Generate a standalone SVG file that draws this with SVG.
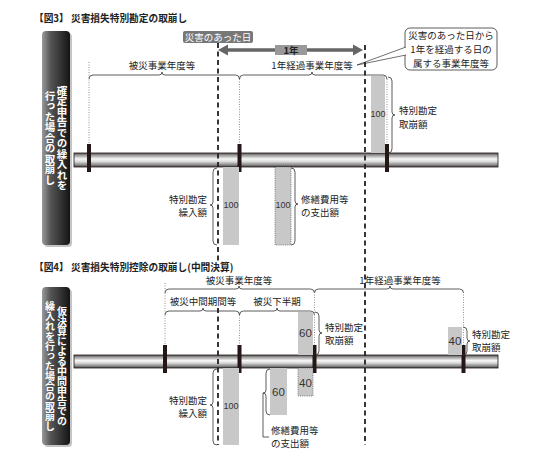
<svg xmlns="http://www.w3.org/2000/svg" width="550" height="459" viewBox="0 0 550 459">
<defs>
<linearGradient id="pipe" x1="0" y1="0" x2="0" y2="1">
<stop offset="0" stop-color="#555"/><stop offset="0.18" stop-color="#a0a0a0"/><stop offset="0.42" stop-color="#f6f6f6"/><stop offset="0.6" stop-color="#dedede"/><stop offset="0.85" stop-color="#888"/><stop offset="1" stop-color="#444"/>
</linearGradient>
<linearGradient id="side" x1="0" y1="0" x2="1" y2="0">
<stop offset="0" stop-color="#9a9a9a"/><stop offset="0.3" stop-color="#565656"/><stop offset="1" stop-color="#141414"/>
</linearGradient>
</defs>
<style>
.t{font-family:"Noto Sans CJK JP","Noto Sans",sans-serif;font-size:9.5px;fill:#222}
.ttl{font-family:"Noto Sans CJK JP","Noto Sans",sans-serif;font-size:9.7px;font-weight:bold;fill:#222}
.v{font-family:"Noto Sans CJK JP",sans-serif;font-weight:bold;fill:#fff;writing-mode:vertical-rl;text-anchor:middle}
.n{font-family:"Liberation Sans",Arial,sans-serif;font-size:9px;fill:#333;text-anchor:middle}
.nb{font-family:"Liberation Sans",Arial,sans-serif;font-size:11.5px;fill:#333;text-anchor:middle}
.br{fill:none;stroke:#333;stroke-width:0.8}
.dot{stroke:#777;stroke-width:0.8;stroke-dasharray:1 1.5;fill:none}
.dash{stroke:#222;stroke-width:1.8;stroke-dasharray:5 3.5;fill:none}
.pipe{fill:url(#pipe);stroke:#231815;stroke-width:0.8}
.tick{fill:#231815}
.g{fill:#c8c8c8}
.gd{fill:#c8c8c8;stroke:#555;stroke-width:0.7;stroke-dasharray:1 1.2}
.side{fill:url(#side)}
.sh{fill:#c4c4c4}
</style>

<!-- Figure 3 -->
<g id="fig3-title"><text class="ttl" x="34" y="22">【図3】 災害損失特別勘定の取崩し</text></g>
<g id="fig3-side">
<rect class="sh" x="44" y="33" width="28" height="214" rx="4"/>
<rect class="side" x="42" y="31" width="28" height="214" rx="4"/>
<text class="v" x="62" y="138" font-size="10.5">確定申告での繰入れを</text>
<text class="v" x="50" y="138" font-size="10.5">行った場合の取崩し</text>
</g>
<g id="fig3-pipe">
<rect class="pipe" x="74" y="153" width="424" height="14"/>
<rect class="tick" x="87" y="144" width="4" height="28"/>
<rect class="tick" x="237.5" y="144" width="4" height="28"/>
<rect class="tick" x="385" y="144" width="4" height="28"/>
</g>
<g id="fig3-disaster-day">
<rect x="183" y="31" width="70" height="12" rx="2" fill="#777"/>
<text x="218" y="40.5" class="t" style="fill:#fff" text-anchor="middle">災害のあった日</text>
</g>
<g id="fig3-one-year">
<line x1="226" y1="50" x2="355" y2="50" stroke="#666" stroke-width="3.5"/>
<polygon points="218,50 228,44.5 228,55.5" fill="#666"/>
<polygon points="363,50 353,44.5 353,55.5" fill="#666"/>
<rect x="275" y="45" width="32" height="10" fill="#999"/>
<text x="291" y="53.5" class="ttl" text-anchor="middle" style="font-size:9.5px">1年</text>
</g>
<g id="fig3-period1">
<path class="br" d="M89,79 Q89,75 93,75 H159 Q162,75 162,72 Q162,75 165,75 H235.5 Q239.5,75 239.5,79"/>
<text class="t" x="162" y="69" text-anchor="middle">被災事業年度等</text>
</g>
<g id="fig3-period2">
<path class="br" d="M239.5,79 Q239.5,75 243.5,75 H309 Q312,75 312,72 Q312,75 315,75 H383 Q387,75 387,79"/>
<text class="t" x="312" y="69" text-anchor="middle">1年経過事業年度等</text>
</g>
<g id="fig3-callout">
<rect x="405" y="28" width="92" height="42" rx="5" fill="#fff" stroke="#333" stroke-width="0.8"/>
<polygon points="357,65 406,47 406,55" fill="#fff"/>
<path d="M406,47 L357,65 L406,55" fill="none" stroke="#333" stroke-width="0.7"/>
<text class="t" x="451" y="39" text-anchor="middle">災害のあった日から</text>
<text class="t" x="451" y="53" text-anchor="middle">1年を経過する日の</text>
<text class="t" x="451" y="67" text-anchor="middle">属する事業年度等</text>
</g>
<g id="fig3-reversal">
<rect class="g" x="371" y="76" width="14" height="77"/>
<text class="n" x="378" y="117">100</text>
<path class="br" d="M388,77 Q392,77 392,81 V112 Q392,115 395,115 Q392,115 392,118 V149 Q392,153 388,153"/>
<text class="t" x="399" y="114">特別勘定</text>
<text class="t" x="399" y="128">取崩額</text>
</g>
<g id="fig3-provision">
<path class="br" d="M217,168 Q213,168 213,172 V202 Q213,205 210,205 Q213,205 213,208 V241 Q213,245 217,245"/>
<text class="t" x="207" y="203" text-anchor="end">特別勘定</text>
<text class="t" x="207" y="216" text-anchor="end">繰入額</text>
<rect class="g" x="223" y="167" width="16" height="78"/>
<text class="n" x="231" y="208">100</text>
</g>
<g id="fig3-repair">
<rect class="gd" x="275" y="167" width="16" height="78"/>
<text class="n" x="283" y="208">100</text>
<path class="br" d="M291,168 Q295,168 295,172 V201 Q295,204 298,204 Q295,204 295,207 V241 Q295,245 291,245"/>
<text class="t" x="301" y="203">修繕費用等</text>
<text class="t" x="301" y="216">の支出額</text>
</g>

<!-- Figure 4 -->
<g id="fig4-title"><text class="ttl" x="34" y="271">【図4】 災害損失特別控除の取崩し(中間決算)</text></g>
<g id="fig4-side">
<rect class="sh" x="44" y="289" width="28" height="158" rx="4"/>
<rect class="side" x="42" y="287" width="28" height="158" rx="4"/>
<text class="v" x="62" y="366" font-size="10">仮決算による中間申告での</text>
<text class="v" x="50" y="366" font-size="10">繰入れを行った場合の取崩し</text>
</g>
<g id="fig4-pipe">
<rect class="pipe" x="74" y="355" width="424" height="13"/>
<rect class="tick" x="163" y="345" width="4" height="28"/>
<rect class="tick" x="237.5" y="345" width="4" height="28"/>
<rect class="tick" x="312.5" y="345" width="4" height="28"/>
<rect class="tick" x="461.5" y="345" width="4" height="28"/>
</g>
<g id="fig4-period-year">
<path class="br" d="M165,293 Q165,289 169,289 H236 Q239,289 239,286 Q239,289 242,289 H310.5 Q314.5,289 314.5,293"/>
<text class="t" x="239" y="284" text-anchor="middle">被災事業年度等</text>
</g>
<g id="fig4-period-next">
<path class="br" d="M314.5,293 Q314.5,289 318.5,289 H387 Q390,289 390,286 Q390,289 393,289 H459.5 Q463.5,289 463.5,293"/>
<text class="t" x="400" y="284" text-anchor="middle">1年経過事業年度等</text>
</g>
<g id="fig4-period-interim">
<path class="br" d="M165,315 Q165,311 169,311 H200 Q203,311 203,308 Q203,311 206,311 H235.5 Q239.5,311 239.5,315"/>
<text class="t" x="203" y="305" text-anchor="middle">被災中間期間等</text>
</g>
<g id="fig4-period-second">
<path class="br" d="M239.5,315 Q239.5,311 243.5,311 H274 Q277,311 277,308 Q277,311 280,311 H310.5 Q314.5,311 314.5,315"/>
<text class="t" x="277" y="305" text-anchor="middle">被災下半期</text>
</g>
<g id="fig4-reversal1">
<rect class="g" x="298" y="312" width="15" height="43"/>
<text class="nb" x="305.5" y="337">60</text>
<path class="br" d="M315,312 Q319,312 319,316 V330 Q319,333 322,333 Q319,333 319,336 V351 Q319,355 315,355"/>
<text class="t" x="325" y="331">特別勘定</text>
<text class="t" x="325" y="344">取崩額</text>
</g>
<g id="fig4-reversal2">
<rect class="g" x="448" y="327" width="14" height="28"/>
<text class="nb" x="455" y="345">40</text>
<path class="br" d="M463,327 Q467,327 467,331 V338 Q467,341 470,341 Q467,341 467,344 V351 Q467,355 463,355"/>
<text class="t" x="472" y="338">特別勘定</text>
<text class="t" x="472" y="351">取崩額</text>
</g>
<g id="fig4-provision">
<path class="br" d="M217,369 Q213,369 213,373 V402 Q213,405 210,405 Q213,405 213,408 V441 Q213,445 217,445"/>
<text class="t" x="207" y="404" text-anchor="end">特別勘定</text>
<text class="t" x="207" y="417" text-anchor="end">繰入額</text>
<rect class="g" x="223" y="368" width="16" height="77"/>
<text class="n" x="231" y="409">100</text>
</g>
<g id="fig4-repair">
<rect class="g" x="270" y="368" width="17" height="47"/>
<text class="nb" x="278.5" y="396">60</text>
<rect class="gd" x="298" y="368" width="15" height="28"/>
<text class="nb" x="305.5" y="387">40</text>
<path class="br" d="M270,369 Q266,369 266,373 V390 Q266,393 263,393 Q266,393 266,396 V411 Q266,415 270,415"/>
<path class="br" d="M263,393 V437 H269"/>
<text class="t" x="271" y="434">修繕費用等</text>
<text class="t" x="271" y="447">の支出額</text>
</g>

<g id="connectors">
<line class="dash" x1="218" y1="43" x2="218" y2="262"/>
<line class="dash" x1="365" y1="45" x2="365" y2="445"/>
<line class="dash" x1="218" y1="308" x2="218" y2="445"/>
<line class="dot" x1="89" y1="62" x2="89" y2="144"/>
<line class="dot" x1="239.5" y1="79" x2="239.5" y2="144"/>
<line class="dot" x1="387" y1="79" x2="387" y2="144"/>
<line class="dot" x1="165" y1="283" x2="165" y2="345"/>
<line class="dot" x1="239.5" y1="315" x2="239.5" y2="345"/>
<line class="dot" x1="314.5" y1="292" x2="314.5" y2="345"/>
<line class="dot" x1="463.5" y1="292" x2="463.5" y2="345"/>
</g>
</svg>
